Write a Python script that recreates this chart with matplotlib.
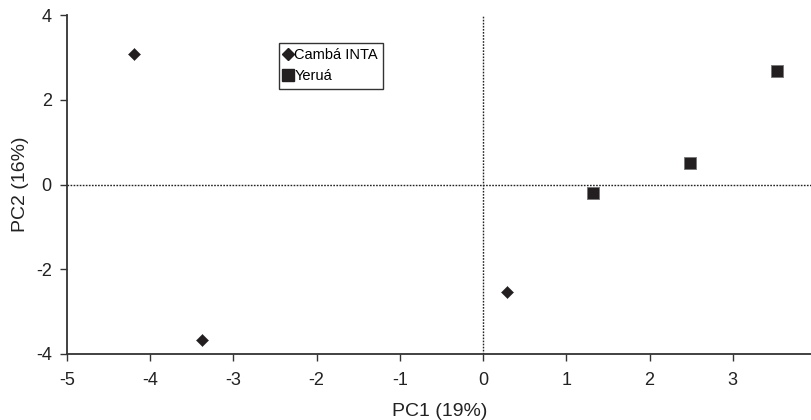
import matplotlib
matplotlib.use("Agg")
import matplotlib.pyplot as plt
from matplotlib.lines import Line2D

plt.rcParams['font.family'] = ['Liberation Sans', 'DejaVu Sans']
plt.rcParams['axes.unicode_minus'] = False

camba_x = [-4.20, -3.38, 0.29]
camba_y = [3.07, -3.67, -2.53]
yerua_x = [1.32, 2.49, 3.53]
yerua_y = [-0.20, 0.50, 2.69]
xticks = [-5, -4, -3, -2, -1, 0, 1, 2, 3, 4]
yticks = [-4, -2, 0, 2, 4]

fig = plt.figure(figsize=(8.12, 4.2), dpi=100)
ax = fig.add_axes([67/812, 66/420, (816-67)/812, (354-15)/420])
ax.set_xlim(-5, 4)
ax.set_ylim(-4, 4)

ax.axhline(0, color='#222222', lw=1.0, ls=(0, (1.2, 1.0)), zorder=1)
ax.axvline(0, color='#222222', lw=1.0, ls=(0, (1.2, 1.0)), zorder=1)

col = '#231f20'
ax.scatter(camba_x, camba_y, marker='D', s=38, c=col, edgecolors=col, linewidths=0.3, zorder=3)
ax.scatter(yerua_x, yerua_y, marker='s', s=80, c=col, edgecolors='#777777', linewidths=0.6, zorder=3)

for s in ['top', 'right']:
    ax.spines[s].set_visible(False)
for s in ['left', 'bottom']:
    ax.spines[s].set_color('#333333')
    ax.spines[s].set_linewidth(1.3)

ax.set_xticks(xticks)
ax.set_yticks(yticks)
ax.tick_params(direction='out', length=5, width=1, color='#333333', labelsize=13, labelcolor='#222222')
ax.tick_params(axis='x', pad=8)
ax.tick_params(axis='y', pad=6)
ax.set_xlabel('PC1 (19%)', fontsize=14, color='#222222')
ax.set_ylabel('PC2 (16%)', fontsize=14, color='#222222')
ax.xaxis.set_label_coords((440-67)/749, -0.145)
ax.yaxis.set_label_coords(-(67-29)/749, 0.5)

handles = [Line2D([], [], marker='D', color=col, ls='none', markersize=6.5),
           Line2D([], [], marker='s', color=col, ls='none', markersize=8.5)]
leg = ax.legend(handles, ['Cambá INTA', 'Yeruá'], loc='upper left',
                bbox_to_anchor=((279-67)/749, (354-43)/339), fontsize=10.5,
                frameon=True, fancybox=False, edgecolor='black', handlelength=0.6,
                handletextpad=0.1, borderpad=0.35, labelspacing=0.5, borderaxespad=0)
leg.get_frame().set_linewidth(1.0)

fig.savefig('out.png', dpi=100)
